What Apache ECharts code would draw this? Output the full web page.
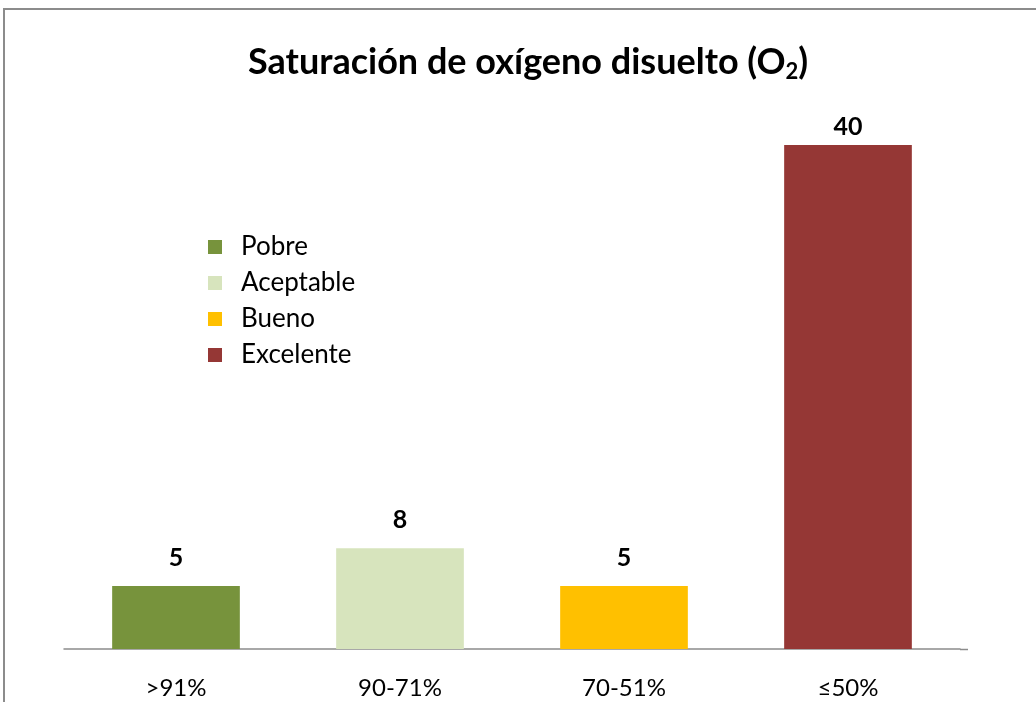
<!DOCTYPE html>
<html>
<head>
<meta charset="utf-8">
<script src="https://cdn.jsdelivr.net/npm/echarts@6/dist/echarts.min.js"></script>
<style>
  html, body { margin: 0; padding: 0; background: #fff; }
  #chart { width: 1036px; height: 702px; }
</style>
</head>
<body>
<div id="chart"></div>
<script>
const categories = [">91%", "90-71%", "70-51%", "≤50%"];
const seriesNames = ["Pobre", "Aceptable", "Bueno", "Excelente"];
const values = [5, 8, 5, 40];
const colors = ["#77933C", "#D7E4BD", "#FFC000", "#953735"];

const FONT = "Lato, 'Open Sans', sans-serif";

let chart = echarts.init(document.getElementById("chart"));

// one series per category so the legend shows every colour
let series = seriesNames.map((name, i) => {
  let data = categories.map((c, j) => (j === i ? values[j] : "-"));
  return {
    name: name,
    type: "bar",
    stack: "total",
    barWidth: "57%",
    itemStyle: { color: colors[i] },
    label: {
      show: true,
      position: "top",
      // the tall bar's label sits closer to the bar in the original
      distance: i === 3 ? 6 : 16,
      color: "#000",
      fontWeight: "bold",
      fontSize: 25,
      fontFamily: FONT
    },
    data: data
  };
});

let option = {
  backgroundColor: "#fff",
  animation: false,
  title: {
    text: "{t|Saturación de oxígeno disuelto (O}{s|2}{t|)}",
    left: 243,
    top: 36,
    textStyle: {
      rich: {
        t: { fontSize: 36, fontWeight: "bold", color: "#000", fontFamily: FONT },
        s: { fontSize: 22, fontWeight: "bold", color: "#000", fontFamily: FONT, padding: [20, 0, 0, 0] }
      }
    }
  },
  legend: {
    orient: "vertical",
    left: 203,
    top: 229,
    itemWidth: 14,
    itemHeight: 14,
    itemGap: 10,
    icon: "rect",
    textStyle: { fontSize: 26, color: "#000", fontFamily: FONT, padding: [0, 0, 0, 14] },
    data: seriesNames
  },
  grid: {
    left: 64,
    right: 76,
    top: 82,
    bottom: 53
  },
  xAxis: {
    type: "category",
    data: categories,
    axisLine: { lineStyle: { color: "#8c8c8c", width: 1.5 } },
    axisTick: { show: false },
    axisLabel: { color: "#000", fontSize: 24, margin: 27, fontFamily: FONT }
  },
  yAxis: {
    type: "value",
    min: 0,
    max: 45,
    show: false
  },
  graphic: [
    {
      type: "rect",
      shape: { x: 4, y: 9, width: 1100, height: 800 },
      style: { fill: "none", stroke: "#8c8c8c", lineWidth: 2 }
    },
    {
      // axis line runs a little past the last category in the original
      type: "line",
      shape: { x1: 960, y1: 649.5, x2: 968, y2: 649.5 },
      style: { stroke: "#8c8c8c", lineWidth: 1.5 }
    }
  ],
  series: series
};

chart.setOption(option);
</script>
</body>
</html>
